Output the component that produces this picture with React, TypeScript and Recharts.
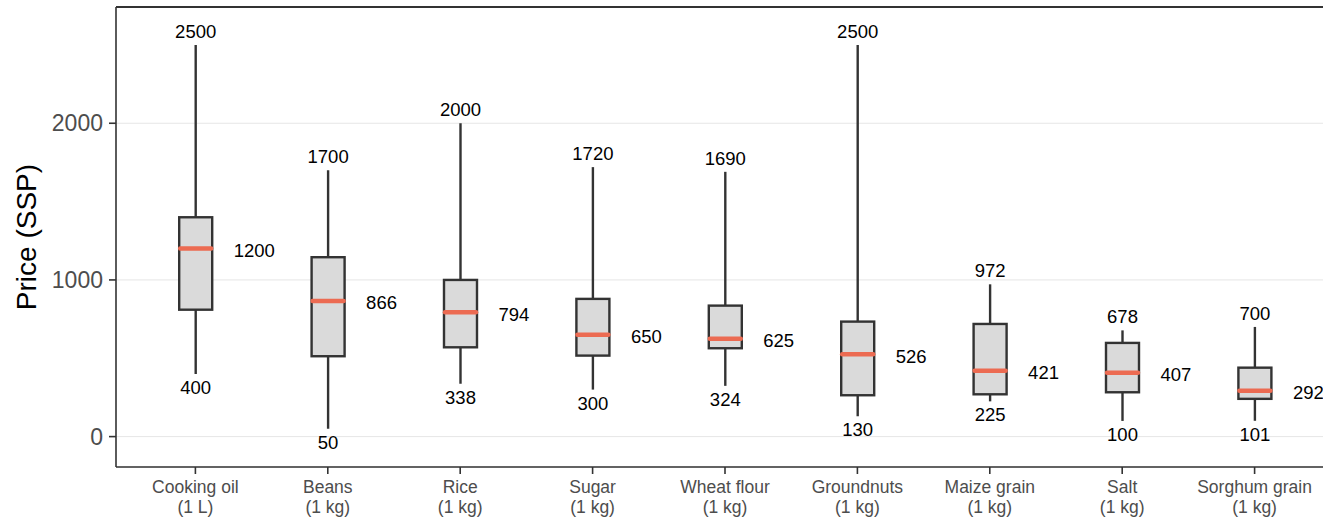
import { Bar, CartesianGrid, ComposedChart, ReferenceLine, XAxis, YAxis } from "recharts";

const categories = ["Cooking oil", "Beans", "Rice", "Sugar", "Wheat flour", "Groundnuts", "Maize grain", "Salt", "Sorghum grain"];
const units = ["(1 L)", "(1 kg)", "(1 kg)", "(1 kg)", "(1 kg)", "(1 kg)", "(1 kg)", "(1 kg)", "(1 kg)"];
const mins = [400, 50, 338, 300, 324, 130, 225, 100, 101];
const q1s = [810, 513, 570, 517, 564, 264, 270, 283, 241];
const medians = [1200, 866, 794, 650, 625, 526, 421, 407, 292];
const q3s = [1400, 1145, 1000, 879, 836, 734, 719, 598, 440];
const maxs = [2500, 1700, 2000, 1720, 1690, 2500, 972, 678, 700];
const yTicks = [0, 1000, 2000];
const yDomain = [-194, 2742];

const data = categories.map((name, i) => ({
  name,
  unit: units[i],
  min: mins[i],
  q1: q1s[i],
  median: medians[i],
  q3: q3s[i],
  max: maxs[i],
  range: [mins[i], maxs[i]],
}));

const font = "'Liberation Sans', Arial, sans-serif";
const dark = "#333333";
const labelSize = 18.5;

function BoxShape(props: any) {
  const { x, y, width, height, payload } = props;
  const top = Math.min(y, y + height);
  const bottom = Math.max(y, y + height);
  const { min, max, q1, q3, median } = payload;
  // map a value to pixels using the bar's own [min, max] extent
  const py = (v: number) => top + ((max - v) / (max - min)) * (bottom - top);
  const cx = x + width / 2;
  return (
    <g>
      <line x1={cx} x2={cx} y1={py(max)} y2={py(min)} stroke={dark} strokeWidth={2.4} />
      <rect x={x} y={py(q3)} width={width} height={py(q1) - py(q3)} fill="#DADADA" stroke={dark} strokeWidth={2.4} />
      <line x1={x + 1} x2={x + width - 1} y1={py(median)} y2={py(median)} stroke="#EC6B52" strokeWidth={4.5} strokeLinecap="round" />
      <text x={cx} y={py(max) - 13.5} textAnchor="middle" dominantBaseline="central" fontSize={labelSize} fontFamily={font} fill="#000">
        {max}
      </text>
      <text x={cx} y={py(min) + 13.5} textAnchor="middle" dominantBaseline="central" fontSize={labelSize} fontFamily={font} fill="#000">
        {min}
      </text>
      <text x={cx + 38} y={py(median) + 2} textAnchor="start" dominantBaseline="central" fontSize={labelSize} fontFamily={font} fill="#000">
        {median}
      </text>
    </g>
  );
}

function XTick(props: any) {
  const { x, y, payload, index } = props;
  return (
    <text x={x} y={y} textAnchor="middle" fontSize={17.5} fontFamily={font} fill="#4D4D4D">
      <tspan x={x} dy={16.5}>{payload.value}</tspan>
      <tspan x={x} dy={20}>{units[index]}</tspan>
    </text>
  );
}

function YTick(props: any) {
  const { x, y, payload } = props;
  return (
    <text x={x} y={y} textAnchor="end" dominantBaseline="central" fontSize={23} fontFamily={font} fill="#4D4D4D">
      {payload.value}
    </text>
  );
}

export default function App() {
  return (
    <div style={{ position: "absolute", left: 0, top: 0, width: 1323, height: 520, overflow: "hidden", background: "#fff" }}>
      <ComposedChart width={1340} height={520} data={data} margin={{ top: 7, right: 6, bottom: 0, left: 0 }}>
        <CartesianGrid vertical={false} stroke="#E6E6E6" strokeWidth={1} />
        <XAxis
          dataKey="name"
          height={53}
          padding={{ left: 13.2, right: 13.2 }}
          axisLine={{ stroke: dark, strokeWidth: 1.6 }}
          tickLine={{ stroke: dark, strokeWidth: 1.6 }}
          tickSize={7}
          tick={<XTick />}
          interval={0}
        />
        <YAxis
          domain={yDomain}
          ticks={yTicks}
          width={116}
          allowDataOverflow
          axisLine={{ stroke: dark, strokeWidth: 1.6 }}
          tickLine={{ stroke: dark, strokeWidth: 1.6 }}
          tickSize={7}
          tickMargin={6}
          tick={<YTick />}
          label={{ value: "Price (SSP)", angle: -90, position: "insideLeft", offset: 26, style: { fontSize: 28, fontFamily: font, fill: "#000", textAnchor: "middle" } }}
        />
        <ReferenceLine y={yDomain[1]} stroke={dark} strokeWidth={1.8} />
        <Bar dataKey="range" barSize={33} shape={<BoxShape />} isAnimationActive={false} />
      </ComposedChart>
    </div>
  );
}
